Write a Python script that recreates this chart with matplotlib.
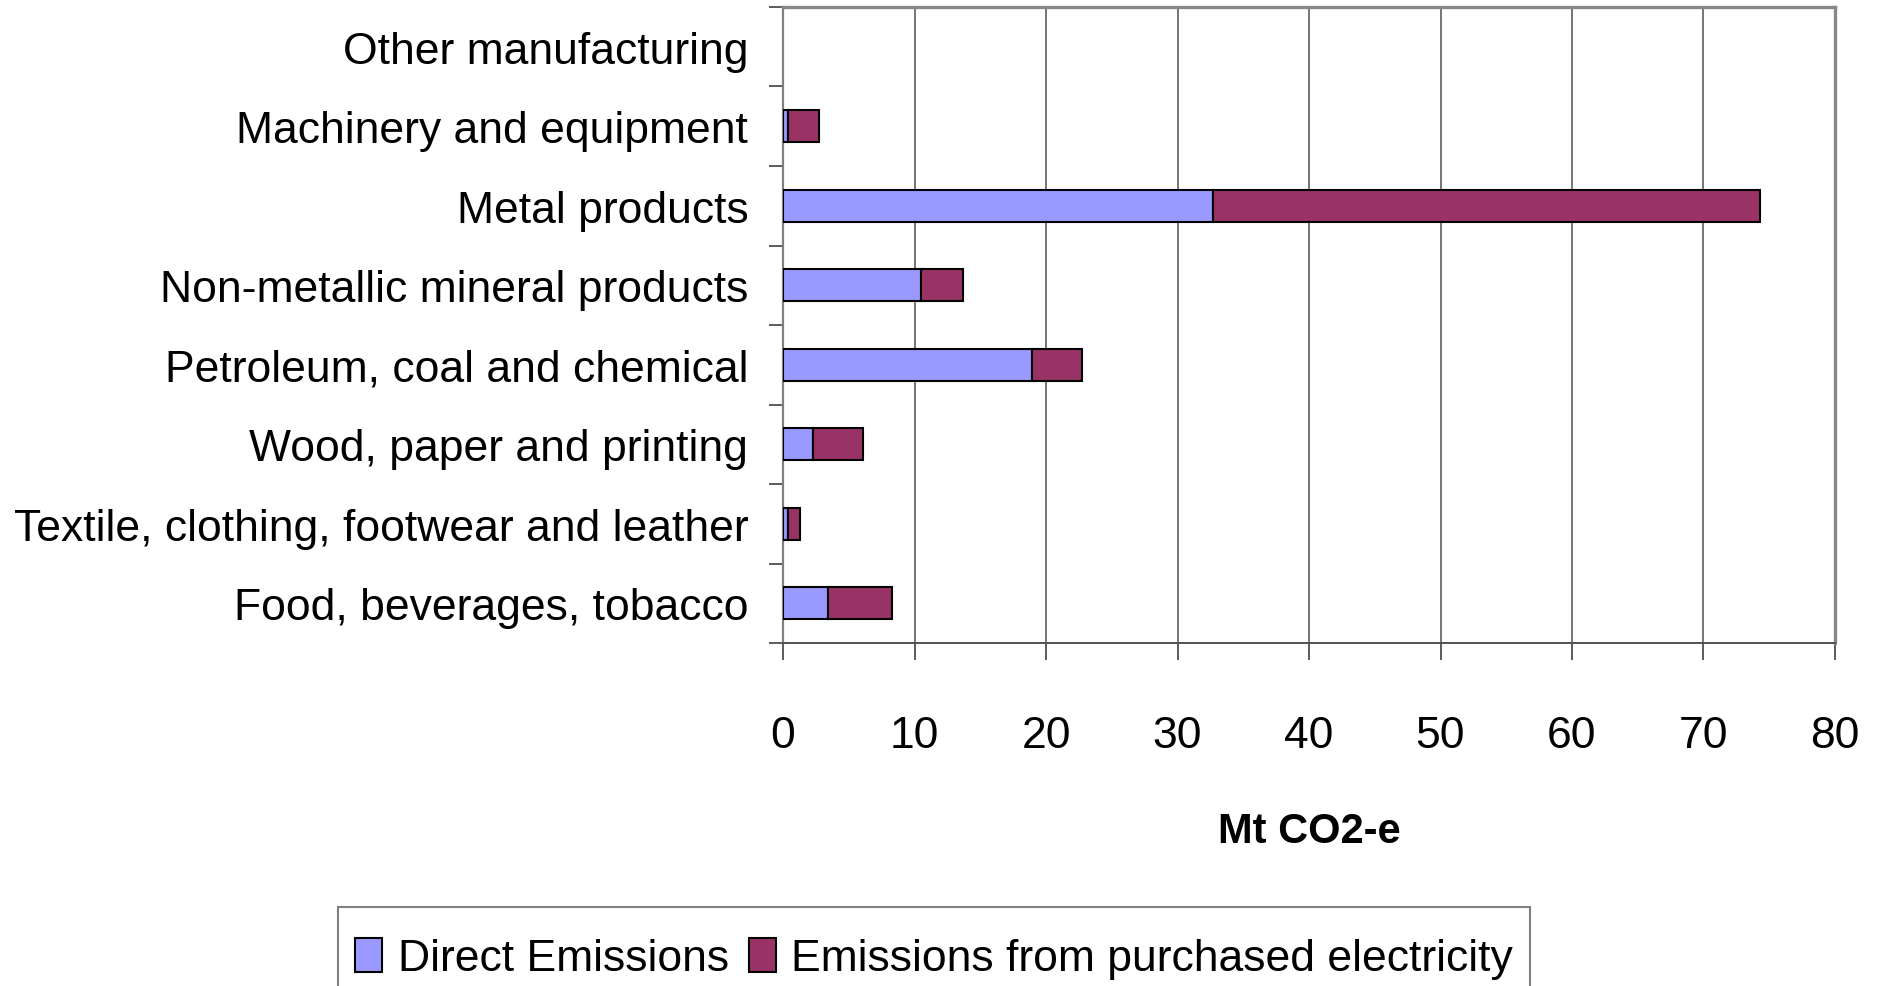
import matplotlib

matplotlib.use("Agg")

import matplotlib.pyplot as plt
import numpy as np
from matplotlib import font_manager
from matplotlib.patches import Rectangle
from matplotlib.ticker import FixedLocator, MultipleLocator

categories = [
    "Food, beverages, tobacco",
    "Textile, clothing, footwear and leather",
    "Wood, paper and printing",
    "Petroleum, coal and chemical",
    "Non-metallic mineral products",
    "Metal products",
    "Machinery and equipment",
    "Other manufacturing",
]
direct = [3.4, 0.4, 2.3, 18.9, 10.5, 32.7, 0.4, 0.0]
electricity = [4.9, 0.9, 3.8, 3.8, 3.2, 41.6, 2.3, 0.0]
series_names = ["Direct Emissions", "Emissions from purchased electricity"]
xlabel = "Mt CO2-e"

# narrow Arial look if it is there, otherwise shrink the regular face
installed = {f.name for f in font_manager.fontManager.ttflist}
if "Liberation Sans Narrow" in installed:
    family = ["Liberation Sans Narrow", "DejaVu Sans"]
    fs = 38
else:
    family = ["Liberation Sans", "DejaVu Sans"]
    fs = 32
plt.rcParams["font.family"] = family

fig = plt.figure(figsize=(18.77, 9.87), dpi=100)
ax = fig.add_axes([0.4172, 0.3475, 0.5604, 0.6444])

y = np.arange(len(categories))
bars_a = ax.barh(y, direct, height=0.4, color="#9999FF", edgecolor="black", linewidth=1.5,
                 label=series_names[0], zorder=3)
bars_b = ax.barh(y, electricity, left=direct, height=0.4, color="#993366", edgecolor="black",
                 linewidth=1.5, label=series_names[1], zorder=3)
# empty segments would still show their outline as a stray line at 0
for patch in list(bars_a) + list(bars_b):
    if patch.get_width() == 0:
        patch.set_visible(False)

ax.set_xlim(0, 80)
ax.set_ylim(-0.5, len(categories) - 0.5)
ax.xaxis.set_major_locator(MultipleLocator(10))
ax.grid(axis="x", color="#505050", linewidth=1.1, zorder=0)

ax.set_yticks(y)
ax.set_yticklabels(categories, fontsize=fs)
ax.yaxis.set_minor_locator(FixedLocator(np.arange(-0.5, len(categories), 1.0)))
ax.tick_params(axis="y", which="major", length=0, pad=25)
ax.tick_params(axis="y", which="minor", length=10, width=1.2, color="#404040", direction="out")
ax.tick_params(axis="x", which="major", length=12, width=1.2, color="#404040",
               labelsize=fs, pad=40)

ax.set_xlabel(xlabel, fontsize=30, fontweight="bold")
ax.xaxis.set_label_coords(0.5, -0.295)
ax.xaxis.label.set_va("center")

for side in ["top", "right"]:
    ax.spines[side].set_color("#888888")
    ax.spines[side].set_linewidth(2.4)
ax.spines["left"].set_color("#808080")
ax.spines["left"].set_linewidth(1.6)
ax.spines["bottom"].set_color("#505050")
ax.spines["bottom"].set_linewidth(1.4)

# legend box runs off the bottom edge in the original, so draw the frame separately
fig.legend(loc="center", bbox_to_anchor=(0.4976, 0.028), ncol=2,
           fontsize=fs, frameon=False,
           handlelength=0.62, handleheight=0.8, handletextpad=0.34,
           columnspacing=0.45, borderpad=0, borderaxespad=0)
fig.patches.append(Rectangle((0.1801, -0.05), 0.635, 0.13, transform=fig.transFigure,
                             facecolor="none", edgecolor="#808080", linewidth=1.5))

fig.savefig("out.png", dpi=100)
